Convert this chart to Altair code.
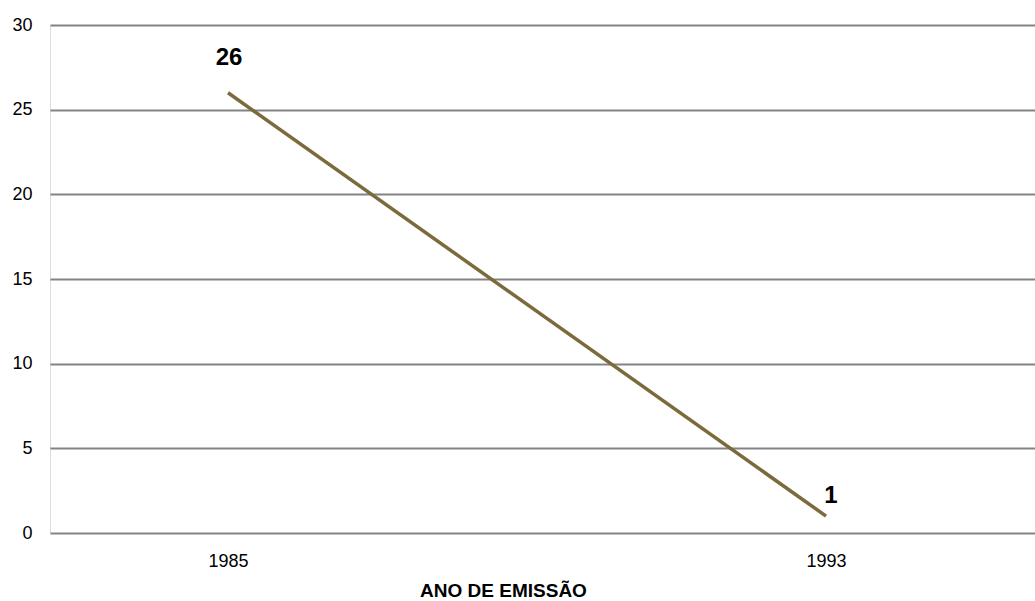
import altair as alt
import pandas as pd

# Emission counts per year
years = ["1985", "1993"]
counts = [26, 1]

df = pd.DataFrame({"ano": years, "total": counts})

FONT = "Liberation Sans"
LINE_COLOR = "#7b6a3c"
GRID_COLOR = "#838383"

x_enc = alt.X(
    "ano:O",
    scale=alt.Scale(type="point", domain=years, padding=0.3236, align=0.46),
    axis=alt.Axis(
        title="ANO DE EMISSÃO",
        labelAngle=0,
        labelFontSize=18,
        labelFont=FONT,
        labelColor="#000000",
        labelBaseline="alphabetic",
        labelPadding=33,
        ticks=False,
        domain=False,
        grid=False,
        titleFont=FONT,
        titleFontSize=19,
        titleFontWeight="bold",
        titleColor="#000000",
        titleAnchor="start",
        titleAlign="center",
        titleBaseline="alphabetic",
        titleX=453,
        titleY=63,
    ),
)
y_enc = alt.Y(
    "total:Q",
    scale=alt.Scale(domain=[0, 30], nice=False),
    axis=alt.Axis(
        title=None,
        values=[0, 5, 10, 15, 20, 25, 30],
        labelFontSize=18,
        labelFont=FONT,
        labelColor="#000000",
        labelPadding=18,
        ticks=False,
        domain=False,
        grid=True,
        gridColor=GRID_COLOR,
        gridWidth=2,
    ),
)

line = alt.Chart(df).mark_line(color=LINE_COLOR, strokeWidth=3.5).encode(x=x_enc, y=y_enc)

first = alt.Chart(df).transform_filter(alt.datum.ano == "1985").mark_text(
    font=FONT, fontSize=24, fontWeight="bold", color="#000000",
    baseline="alphabetic", dx=1, dy=-28,
).encode(x=x_enc, y=y_enc, text=alt.Text("total:Q"))

last = alt.Chart(df).transform_filter(alt.datum.ano == "1993").mark_text(
    font=FONT, fontSize=24, fontWeight="bold", color="#000000",
    baseline="alphabetic", dx=5, dy=-13,
).encode(x=x_enc, y=y_enc, text=alt.Text("total:Q"))

chart = (
    alt.layer(line, first, last)
    .properties(
        width=985,
        height=508,
        autosize=alt.AutoSizeParams(type="none"),
        padding={"left": 50, "top": 25, "right": 0, "bottom": 68},
    )
    .configure_view(stroke="transparent", strokeWidth=0)
    .configure(background="#ffffff")
)

chart.save("out.html", embed_options={"renderer": "svg", "actions": False})
